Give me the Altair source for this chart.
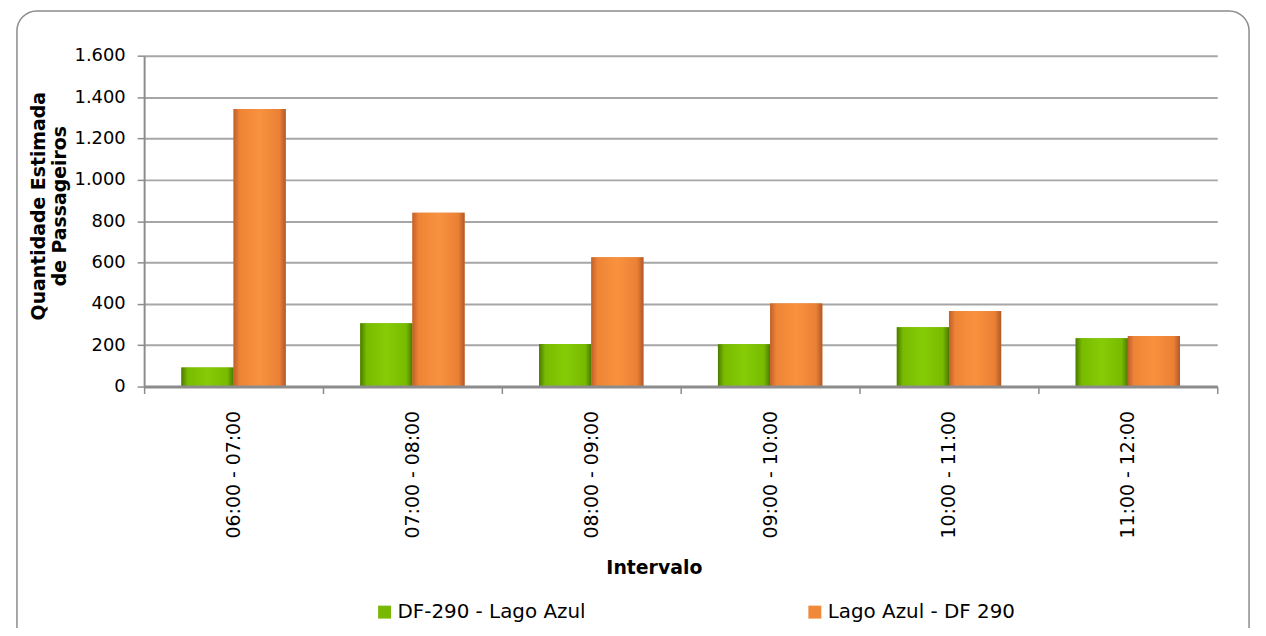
import altair as alt
import pandas as pd

intervals = ["06:00 - 07:00", "07:00 - 08:00", "08:00 - 09:00",
             "09:00 - 10:00", "10:00 - 11:00", "11:00 - 12:00"]
series_names = ["DF-290 - Lago Azul", "Lago Azul - DF 290"]
green_vals = [92, 306, 206, 205, 287, 234]
orange_vals = [1342, 840, 625, 402, 365, 245]
y_ticks = [0, 200, 400, 600, 800, 1000, 1200, 1400, 1600]
legend_colors = ["#78b800", "#f08a3a"]

rows = []
for i, iv in enumerate(intervals):
    rows.append({"Intervalo": iv, "Serie": series_names[0], "Valor": green_vals[i]})
    rows.append({"Intervalo": iv, "Serie": series_names[1], "Valor": orange_vals[i]})
df = pd.DataFrame(rows)

FONT = "DejaVu Sans"

x_enc = alt.X("Intervalo:N", sort=intervals,
              scale=alt.Scale(paddingInner=0, paddingOuter=0),
              axis=alt.Axis(title="Intervalo", labelAngle=-90, tickBand="extent",
                            labelFontSize=19, labelPadding=17, labelColor="#000000",
                            titleFontSize=19, titleFontWeight="bold", titleColor="#000000",
                            titleX=513, titleY=182, titleBaseline="middle",
                            domainColor="#8c8c8c", domainWidth=3,
                            tickColor="#8c8c8c", tickWidth=1.5, tickSize=7, grid=False,
                            zindex=1))
xoff_enc = alt.XOffset("Serie:N", sort=series_names,
                       scale=alt.Scale(domain=series_names, paddingInner=0, paddingOuter=0.714))
y_enc = alt.Y("Valor:Q",
              scale=alt.Scale(domain=[0, 1600], nice=False),
              axis=alt.Axis(title=["Quantidade Estimada", "de Passageiros"],
                            values=y_ticks,
                            labelExpr="replace(format(datum.value, ','), ',', '.')",
                            labelFontSize=18, labelPadding=12, labelColor="#000000",
                            titleFontSize=19, titleFontWeight="bold", titleColor="#000000",
                            titleAngle=-90, titleX=-106, titleY=151,
                            titleAlign="center", titleBaseline="middle", titleLineHeight=21,
                            domainColor="#8c8c8c", domainWidth=2,
                            tickColor="#8c8c8c", tickWidth=1.5, tickSize=7,
                            grid=True, gridColor="#a6a6a6", gridWidth=2))

base = alt.Chart(df).encode(x=x_enc, xOffset=xoff_enc, y=y_enc, y2=alt.value(337))

legend_layer = base.mark_bar().encode(
    color=alt.Color("Serie:N", sort=series_names,
                    scale=alt.Scale(domain=series_names, range=legend_colors),
                    legend=alt.Legend(title=None, orient="none", legendX=232, legendY=550,
                                      direction="horizontal", symbolType="square",
                                      symbolSize=170, symbolStrokeWidth=0,
                                      labelFontSize=20, labelColor="#000000", labelLimit=500,
                                      labelOffset=3, columnPadding=220))
)

green_grad = alt.Gradient(gradient="linear", x1=0, x2=1, y1=0, y2=0, stops=[
    alt.GradientStop(color="#4c7a00", offset=0),
    alt.GradientStop(color="#78bb00", offset=0.12),
    alt.GradientStop(color="#86cc06", offset=0.5),
    alt.GradientStop(color="#78bb00", offset=0.88),
    alt.GradientStop(color="#4c7a00", offset=1)])
orange_grad = alt.Gradient(gradient="linear", x1=0, x2=1, y1=0, y2=0, stops=[
    alt.GradientStop(color="#c0602a", offset=0),
    alt.GradientStop(color="#ee8436", offset=0.12),
    alt.GradientStop(color="#f8923f", offset=0.5),
    alt.GradientStop(color="#ea8034", offset=0.88),
    alt.GradientStop(color="#b0582a", offset=1)])

green_layer = base.transform_filter(alt.datum.Serie == series_names[0]).mark_bar(color=green_grad)
orange_layer = base.transform_filter(alt.datum.Serie == series_names[1]).mark_bar(color=orange_grad)

border = alt.Chart(pd.DataFrame({"k": [0]})).mark_rect(
    fill="transparent", stroke="#8c8c8c", strokeWidth=1.5, cornerRadius=20
).encode(x=alt.value(-128), x2=alt.value(1112), y=alt.value(-45), y2=alt.value(606))

chart = alt.layer(border, legend_layer, green_layer, orange_layer).properties(
    width=1080, height=333,
    autosize=alt.AutoSizeParams(type="none"),
    padding={"left": 137, "top": 46, "right": 41, "bottom": 241},
    background="white"
).configure(font=FONT).configure_view(stroke=None)

chart.save("out.html", embed_options={"renderer": "svg", "actions": False})
